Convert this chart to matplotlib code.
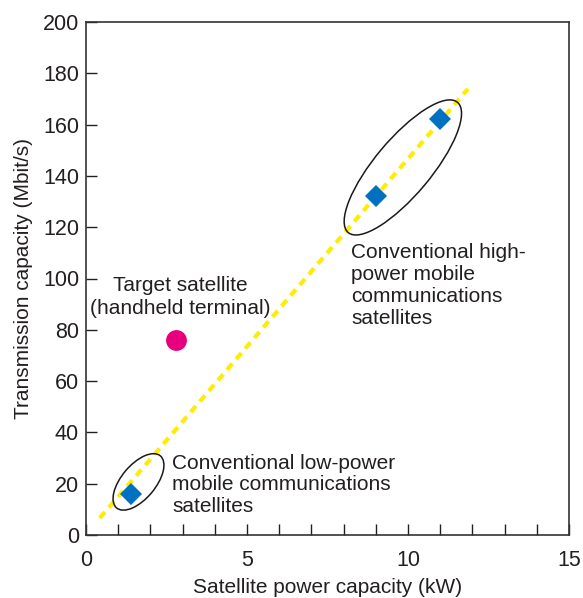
import matplotlib
matplotlib.use("Agg")
import matplotlib.pyplot as plt
import matplotlib.transforms as mtransforms
from matplotlib.patches import Ellipse
import numpy as np

plt.rcParams['font.family'] = ['Liberation Sans', 'DejaVu Sans']

# conventional satellites (kW, Mbit/s)
conv_power = [1.4, 9.0, 11.0]
conv_capacity = [16, 132, 162]

# target satellite
target_power = [2.8]
target_capacity = [76]

# trend line end points
trend_power = [0.43, 11.86]
trend_capacity = [6.6, 173.9]

x_ticks = [0, 5, 10, 15]
y_ticks = [0, 20, 40, 60, 80, 100, 120, 140, 160, 180, 200]

text_col = '#231f20'

fig = plt.figure(figsize=(5.83, 5.98), dpi=100)
ax = fig.add_axes([86 / 583, 1 - 535 / 598, (569 - 86) / 583, (535 - 22) / 598])

ax.plot(trend_power, trend_capacity, color='#ffec00', lw=3.0,
        linestyle=(0, (1.9, 1.45)), solid_capstyle='butt', zorder=2)
ax.plot(conv_power, conv_capacity, 'D', color='#0070c0', markersize=11,
        markeredgewidth=0, zorder=4)
ax.plot(target_power, target_capacity, 'o', color='#e6007e', markersize=15,
        markeredgewidth=0, zorder=4)

# ellipses drawn in inches around a data-space centre
def ring(cx, cy, w, h, ang):
    tr = fig.dpi_scale_trans + mtransforms.ScaledTranslation(cx, cy, ax.transData)
    e = Ellipse((0, 0), w, h, angle=ang, transform=tr, fill=False,
                edgecolor='#1a1a1a', lw=1.1, zorder=3)
    ax.add_patch(e)

ring(9.84, 143.3, 1.70, 0.56, 50)
ring(1.63, 20.7, 0.68, 0.34, 50)

fs = 15
ax.text(2.92, 100.8, 'Target satellite\n(handheld terminal)', ha='center', va='top',
        fontsize=fs, color=text_col, linespacing=1.25)
ax.text(8.23, 114.0, 'Conventional high-\npower mobile\ncommunications\nsatellites',
        ha='left', va='top', fontsize=fs, color=text_col, linespacing=1.22)
ax.text(2.67, 31.6, 'Conventional low-power\nmobile communications\nsatellites',
        ha='left', va='top', fontsize=fs, color=text_col, linespacing=1.17)

ax.set_xlim(0, 15)
ax.set_ylim(0, 200)
ax.set_xticks(x_ticks)
ax.set_xticks(np.arange(0, 16, 1), minor=True)
ax.set_yticks(y_ticks)
ax.tick_params(which='both', direction='in', length=8, width=1, colors=text_col,
               labelsize=15.5, top=False, right=False)
ax.tick_params(axis='x', pad=11)
ax.tick_params(axis='y', pad=5)
for s in ax.spines.values():
    s.set_linewidth(1.2)
    s.set_color('#333333')

ax.set_xlabel('Satellite power capacity (kW)', fontsize=fs, color=text_col, labelpad=5)
ax.set_ylabel('Transmission capacity (Mbit/s)', fontsize=fs, color=text_col, labelpad=7)

fig.savefig('out.png', dpi=100)
